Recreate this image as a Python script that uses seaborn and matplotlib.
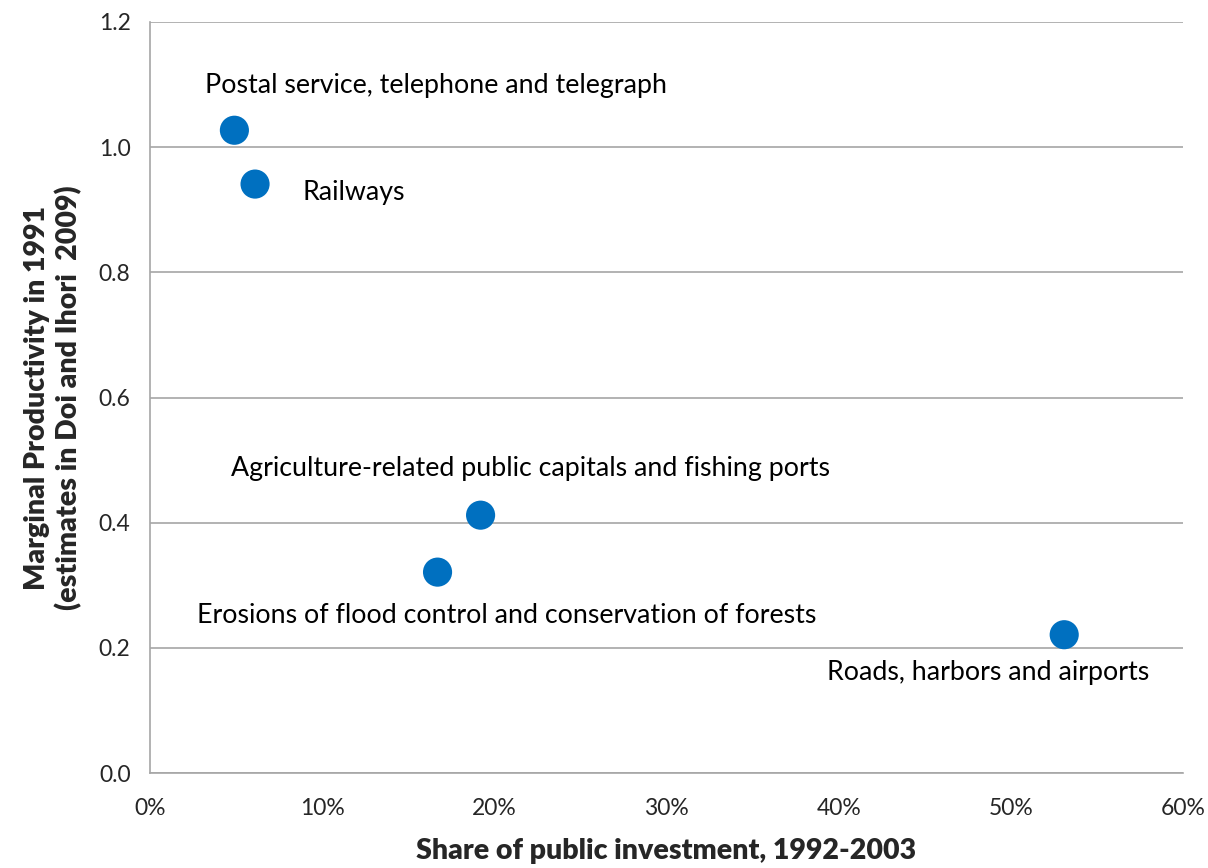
import numpy as np
import pandas as pd
import seaborn as sns
import matplotlib.pyplot as plt
from matplotlib.ticker import PercentFormatter

# données
categories = ['Postal service, telephone and telegraph', 'Railways',
              'Agriculture-related public capitals and fishing ports',
              'Erosions of flood control and conservation of forests',
              'Roads, harbors and airports']
share = [4.9, 6.1, 19.2, 16.7, 53.1]          # % de l'investissement public
productivity = [1.027, 0.941, 0.412, 0.321, 0.221]

# position des étiquettes (coin gauche, centre vertical)
lab_x = [3.2, 8.85, 4.7, 2.7, 39.3]
lab_y = [1.099, 0.927, 0.486, 0.2525, 0.160]

df = pd.DataFrame({'cat': categories, 'share': share, 'mp': productivity})

sns.set_style('white')
plt.rcParams['font.family'] = ['Lato', 'DejaVu Sans']

fig = plt.figure(figsize=(12.08, 8.68), dpi=100)
ax = fig.add_axes([0.1242, 0.1094, 0.8551, 0.8653])

sns.scatterplot(data=df, x='share', y='mp', s=440, color='#0070C0',
                edgecolor='none', ax=ax, zorder=3, legend=False)

for c, x, y in zip(categories, lab_x, lab_y):
    ax.text(x, y, c, fontsize=19.3, ha='left', va='center', color='black')

ax.set_xlim(0, 60)
ax.set_ylim(0, 1.2)
ax.set_xticks(np.arange(0, 61, 10))
ax.set_yticks(np.arange(0, 1.21, 0.2))
ax.xaxis.set_major_formatter(PercentFormatter(decimals=0))
ax.set_yticklabels([f'{v:.1f}' for v in np.arange(0, 1.21, 0.2)])

ax.yaxis.grid(True, color='#A6A6A6', linewidth=1.2)
ax.xaxis.grid(False)
ax.set_axisbelow(True)
for s in ['top', 'right']:
    ax.spines[s].set_visible(False)
for s in ['left', 'bottom']:
    ax.spines[s].set_color('#A6A6A6')
    ax.spines[s].set_linewidth(1.2)
ax.tick_params(axis='both', which='major', direction='out', length=6,
               width=1.2, color='#A6A6A6', labelsize=16.5, pad=8)
ax.tick_params(axis='x', pad=12)

ax.set_xlabel('Share of public investment, 1992-2003', fontsize=20.5,
              fontweight='heavy', labelpad=14)
ax.set_ylabel('Marginal Productivity in 1991\n(estimates in Doi and Ihori  2009)',
              fontsize=20.5, fontweight='heavy', labelpad=12)

plt.savefig('out.png', dpi=100)
